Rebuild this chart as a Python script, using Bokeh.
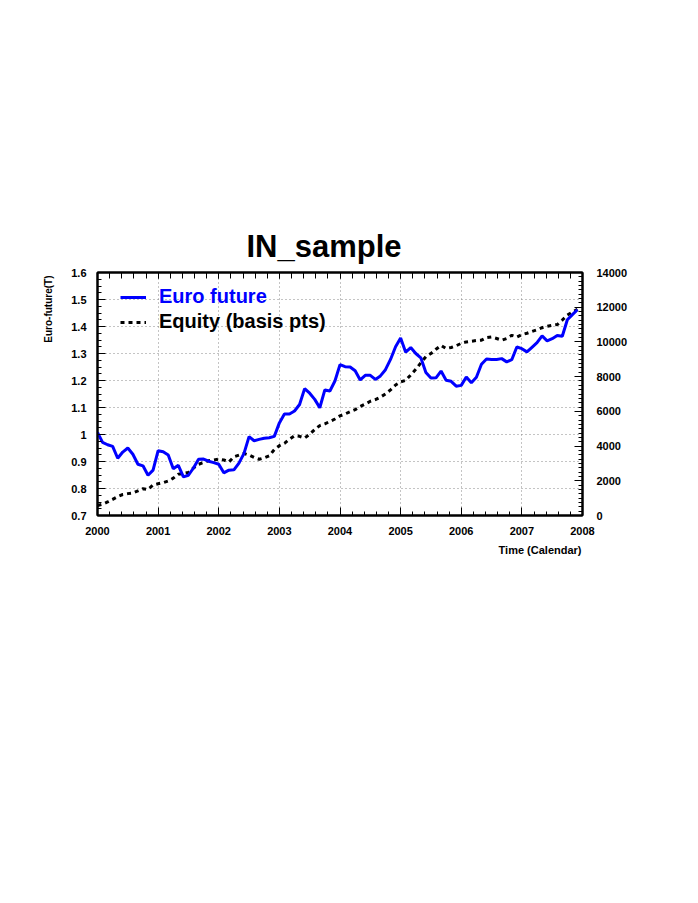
from bokeh.plotting import figure
from bokeh.models import (Range1d, LinearAxis, FixedTicker, NumeralTickFormatter,
                          Legend, LegendItem, Title, CustomJSTickFormatter)
from bokeh.embed import file_html
from bokeh.resources import INLINE

# ---- data (monthly, Jan 2000 .. Dec 2007) ----
start_year = 2000
n_months = 96
euro_future = [
    1.008, 0.971, 0.962, 0.956, 0.912, 0.935, 0.950, 0.927, 0.890, 0.884, 0.849, 0.868,
    0.940, 0.936, 0.924, 0.873, 0.886, 0.843, 0.849, 0.876, 0.908, 0.909, 0.901, 0.896,
    0.890, 0.858, 0.868, 0.869, 0.894, 0.930, 0.992, 0.977, 0.982, 0.986, 0.988, 0.993,
    1.043, 1.076, 1.076, 1.087, 1.111, 1.170, 1.153, 1.130, 1.099, 1.165, 1.161, 1.198,
    1.259, 1.251, 1.250, 1.236, 1.202, 1.219, 1.219, 1.204, 1.217, 1.240, 1.278, 1.325,
    1.357, 1.305, 1.322, 1.300, 1.284, 1.230, 1.209, 1.210, 1.235, 1.201, 1.197, 1.179,
    1.182, 1.213, 1.192, 1.212, 1.260, 1.280, 1.278, 1.278, 1.281, 1.269, 1.277, 1.324,
    1.318, 1.306, 1.323, 1.340, 1.365, 1.347, 1.355, 1.367, 1.364, 1.425, 1.444, 1.462,
]
equity = [
    580, 650, 780, 930, 1090, 1210, 1260, 1300, 1420, 1545, 1500, 1760,
    1830, 1890, 1990, 2150, 2375, 2420, 2480, 2740, 2950, 3050, 3160, 3200,
    3250, 3200, 3080, 3380, 3480, 3570, 3480, 3340, 3240, 3320, 3440, 3800,
    4020, 4160, 4400, 4600, 4560, 4460, 4680, 4950, 5180, 5280, 5420, 5560,
    5740, 5850, 5980, 6100, 6280, 6420, 6580, 6680, 6820, 7000, 7240, 7520,
    7700, 7780, 8100, 8420, 8800, 9150, 9330, 9580, 9800, 9620, 9680, 9780,
    9920, 10000, 10040, 10080, 10100, 10250, 10290, 10200, 10100, 10200, 10380, 10280,
    10420, 10500, 10600, 10700, 10820, 10900, 10960, 11000, 11260, 11550, 11720, 11880,
]
time = [start_year + m / 12.0 for m in range(n_months)]

year_ticks = list(range(2000, 2009))
left_ticks = [0.7, 0.8, 0.9, 1.0, 1.1, 1.2, 1.3, 1.4, 1.5, 1.6]
right_ticks = list(range(0, 14001, 2000))

title_text = "IN_sample"
series_names = ["Euro future", "Equity (basis pts)"]
x_label = "Time (Calendar)"
y_label = "Euro-future(T)"

FONT = "Liberation Sans"

p = figure(width=682, height=600, output_backend="svg", toolbar_location=None,
           x_range=Range1d(2000, 2008), y_range=Range1d(0.7, 1.6),
           min_border_left=97, min_border_top=272, min_border_right=100,
           min_border_bottom=85)
p.background_fill_color = "white"
p.border_fill_color = "white"
p.outline_line_color = "black"
p.outline_line_width = 2

p.title = Title(text=title_text, text_font=FONT, text_font_size="31px",
                text_font_style="bold", text_color="black",
                align="left", offset=149, standoff=17)

p.extra_y_ranges = {"eq": Range1d(0, 14000)}

def style_axis(ax):
    ax.major_tick_in = 8
    ax.major_tick_out = 0
    ax.minor_tick_in = 4
    ax.minor_tick_out = 0
    ax.axis_line_color = "black"
    ax.axis_line_width = 2
    ax.major_tick_line_color = "black"
    ax.minor_tick_line_color = "black"
    ax.major_label_text_font = FONT
    ax.major_label_text_font_size = "11px"
    ax.major_label_text_font_style = "bold"
    ax.major_label_text_color = "black"

xminor = [2000 + i * 0.2 for i in range(41)]
xa = p.xaxis[0]
xa.ticker = FixedTicker(ticks=year_ticks, minor_ticks=xminor)
style_axis(xa)
xa.major_label_standoff = 11

yminor = [0.7 + i * 0.025 for i in range(37)]
ya = p.yaxis[0]
ya.ticker = FixedTicker(ticks=left_ticks, minor_ticks=yminor)
ya.formatter = NumeralTickFormatter(format="0.[0]")
style_axis(ya)
ya.major_label_standoff = 11

ra = LinearAxis(y_range_name="eq",
                ticker=FixedTicker(ticks=right_ticks,
                                   minor_ticks=list(range(0, 14001, 250))))
style_axis(ra)
ra.major_label_standoff = 14
p.add_layout(ra, "right")

ta = LinearAxis(ticker=FixedTicker(ticks=year_ticks, minor_ticks=xminor),
                formatter=CustomJSTickFormatter(code="return ''"))
style_axis(ta)
ta.major_tick_in = 6
ta.minor_tick_in = 6
ta.major_label_standoff = 0
p.add_layout(ta, "above")

# axis titles, aligned to the far ends of their axes
p.add_layout(Title(text=x_label, text_font=FONT, text_font_size="11px",
                   text_font_style="bold", text_color="black", align="right",
                   offset=1, standoff=9), "below")
p.add_layout(Title(text=y_label, text_font=FONT, text_font_size="10px",
                   text_font_style="bold", text_color="black", align="right",
                   offset=3, standoff=30), "left")

for g in (p.xgrid[0], p.ygrid[0]):
    g.grid_line_color = "#888888"
    g.grid_line_dash = "1 3"
    g.grid_line_width = 1
p.xgrid[0].ticker = FixedTicker(ticks=year_ticks)
p.ygrid[0].ticker = FixedTicker(ticks=left_ticks)

r_eq = p.line(time, equity, y_range_name="eq", line_color="black",
              line_width=3, line_dash="4 4")
r_eu = p.line(time, euro_future, line_color="#0000ff", line_width=3)

leg1 = Legend(items=[LegendItem(label=series_names[0], renderers=[r_eu])],
              location=(23, 207), label_text_color="#0000ff")
leg2 = Legend(items=[LegendItem(label=series_names[1], renderers=[r_eq])],
              location=(23, 182), label_text_color="black")
for lg in (leg1, leg2):
    lg.border_line_color = None
    lg.background_fill_alpha = 0
    lg.padding = 0
    lg.margin = 0
    lg.glyph_width = 26
    lg.glyph_height = 20
    lg.label_height = 20
    lg.label_standoff = 13
    lg.label_text_font = FONT
    lg.label_text_font_size = "20px"
    lg.label_text_font_style = "bold"
    p.add_layout(lg, "center")

open("out.html", "w").write(file_html(p, INLINE))
